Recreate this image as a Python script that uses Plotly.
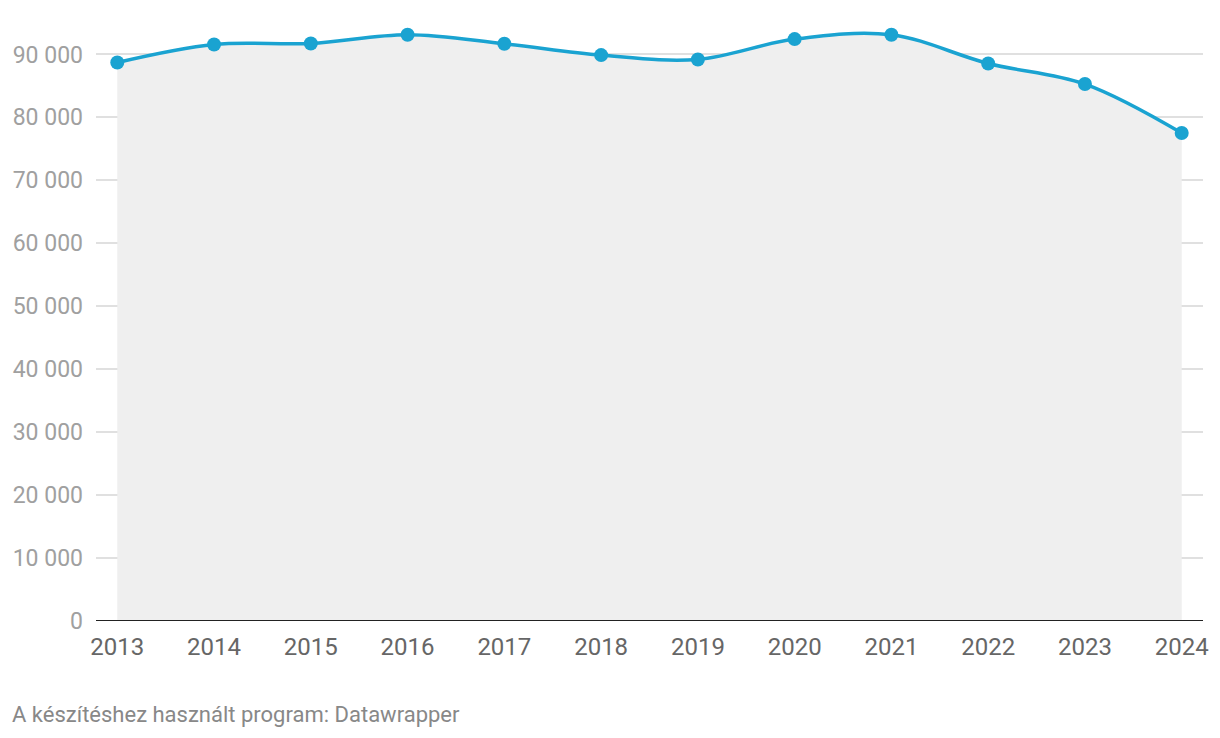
import plotly.graph_objects as go

years = [2013, 2014, 2015, 2016, 2017, 2018, 2019, 2020, 2021, 2022, 2023, 2024]
values = [88730, 91590, 91750, 93130, 91700, 89900, 89210, 92440, 93130, 88570, 85300, 77520]
y_ticks = [0, 10000, 20000, 30000, 40000, 50000, 60000, 70000, 80000, 90000]
footer = "A készítéshez használt program: Datawrapper"

blue = "#1aa3d1"

ml, mr, mt, mb = 88, 25, 15, 124.5
pw = 1220 - ml - mr
ph = 738 - mt - mb

fig = go.Figure()
fig.add_trace(go.Scatter(
    x=years, y=values, mode="lines+markers",
    line=dict(color=blue, width=3.5, shape="spline", smoothing=1.0),
    marker=dict(color=blue, size=14),
    fill="tozeroy", fillcolor="#efefef",
    hoverinfo="x+y", showlegend=False,
))

fig.update_layout(
    width=1220, height=738,
    margin=dict(l=ml, r=mr, t=mt, b=mb),
    paper_bgcolor="white", plot_bgcolor="white",
    separators=", ",
    font=dict(family="Roboto", size=21, color="#999999"),
    xaxis=dict(
        range=[2012.78, 2024.22],
        tickmode="array", tickvals=years, ticktext=[str(y) for y in years],
        showgrid=False, zeroline=False,
        showline=False, ticks="",
        tickfont=dict(size=24, color="#666666"),
        ticklabelstandoff=9,
        automargin=False,
    ),
    yaxis=dict(
        range=[0, 95000],
        tickmode="array", tickvals=y_ticks,
        tickformat=",d",
        showgrid=True, gridcolor="#e0e0e0", gridwidth=1.5,
        zeroline=False, showline=False, ticks="",
        tickfont=dict(size=23, color="#a0a0a0"),
        ticklabelstandoff=12,
        automargin=False,
    ),
    annotations=[dict(
        text=footer, xref="paper", yref="paper",
        x=(2 - ml) / pw, y=-93.5 / ph, xanchor="left", yanchor="middle",
        showarrow=False,
        font=dict(size=22, color="#888888"),
    )],
    shapes=[dict(
        type="line", xref="paper", yref="y",
        x0=0, x1=1, y0=0, y1=0,
        line=dict(color="#222222", width=2),
    )],
)

fig.write_html("out.html")
